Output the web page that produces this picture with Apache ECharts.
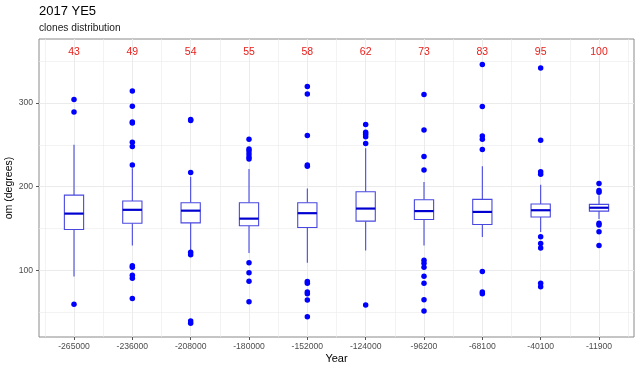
<!DOCTYPE html>
<html>
<head>
<meta charset="utf-8">
<script src="https://cdn.jsdelivr.net/npm/echarts@6/dist/echarts.min.js"></script>
<style>
  html, body { margin: 0; padding: 0; background: #fff; }
  #chart { width: 640px; height: 370px; }
</style>
</head>
<body>
<div id="chart"></div>
<script>
const categories = ['-265000','-236000','-208000','-180000','-152000','-124000','-96200','-68100','-40100','-11900'];
const counts = [43, 49, 54, 55, 58, 62, 73, 83, 95, 100];
const whiskerLow  = [93,    130,   124.5, 121,   109.5, 124,   130,   140,   146,   161.5];
const q1          = [149,   156.5, 157,   153.5, 151.5, 159,   161,   155,   164,   171];
const median      = [168,   172.5, 171.5, 162,   168.5, 174,   171,   170,   172,   175];
const q3          = [190,   183,   181,   181,   181,   194,   184.5, 185,   179.5, 179];
const whiskerHigh = [250,   222,   212,   221,   198,   246,   205.5, 224.5, 202.5, 190];
const outliers = [
  [304, 289, 60],
  [314, 296, 277, 276, 253, 248, 226, 106, 104, 94.5, 91, 67],
  [280, 279, 217, 122, 119, 40, 37.5],
  [256.5, 245, 242.5, 239, 235.5, 233, 109.5, 97.5, 87.5, 63],
  [319.5, 310.5, 261, 226, 224.5, 87, 85, 74.5, 72.5, 65, 45],
  [274, 265, 262.5, 259.5, 251.5, 59],
  [310, 267.5, 236, 220, 112.5, 109, 104, 93.5, 85, 65.5, 52],
  [345.5, 295.5, 260.5, 256.5, 244.5, 99, 74.5, 72.5],
  [341.5, 255.5, 218, 215, 140.5, 132.5, 127, 85, 81],
  [204, 195.5, 193.5, 156.5, 154.5, 146.5, 130]
];
const yTicks = [100, 200, 300];
const yMinor = [50, 150, 250, 350];
const countLabelY = 360;

const idx = categories.map((c, i) => i);
const boxData = idx.map(i => [i, whiskerLow[i], q1[i], median[i], q3[i], whiskerHigh[i]]);
const outlierData = [];
outliers.forEach((arr, i) => arr.forEach(v => outlierData.push([i, v])));
const countData = idx.map(i => [i, countLabelY, counts[i]]);
const xMinor = idx.map(i => i - 0.5).concat([categories.length - 0.5]);

const gridColor = '#ebebeb';
const markLines = []
  .concat(yTicks.map(v => ({ yAxis: v, lineStyle: { type: 'solid', width: 1, color: gridColor } })))
  .concat(yMinor.map(v => ({ yAxis: v, lineStyle: { type: 'solid', width: 0.6, color: gridColor } })))
  .concat(idx.map(v => ({ xAxis: v, lineStyle: { type: 'solid', width: 1, color: gridColor } })))
  .concat(xMinor.map(v => ({ xAxis: v, lineStyle: { type: 'solid', width: 0.6, color: gridColor } })));

const halfW = 0.165;
const chart = echarts.init(document.getElementById('chart'), null, { renderer: 'canvas' });
chart.setOption({
  animation: false,
  backgroundColor: '#fff',
  title: {
    text: '2017 YE5',
    subtext: 'clones distribution',
    left: 34, top: 0,
    itemGap: 5,
    textStyle: { fontFamily: 'Liberation Sans', fontSize: 13, fontWeight: 'normal', color: '#000' },
    subtextStyle: { fontFamily: 'Liberation Sans', fontSize: 10.2, color: '#1a1a1a' }
  },
  grid: { left: 39, right: 6, top: 39, bottom: 33, show: true, outerBoundsMode: 'none', containLabel: false,
    borderColor: '#8a8a8a', borderWidth: 1, backgroundColor: 'transparent' },
  xAxis: {
    type: 'value', min: -0.6, max: 9.6,
    name: 'Year', nameLocation: 'middle', nameGap: 16, nameMoveOverlap: false,
    nameTextStyle: { fontFamily: 'Liberation Sans', fontSize: 11, color: '#000' },
    axisLine: { show: false, onZero: false },
    splitLine: { show: false },
    axisTick: { show: true, length: 3, lineStyle: { color: '#555' }, customValues: idx },
    axisLabel: { customValues: idx, margin: 5, fontFamily: 'Liberation Sans', fontSize: 8.6, color: '#4d4d4d',
      formatter: v => categories[Math.round(v)] }
  },
  yAxis: {
    type: 'value', min: 21, max: 376,
    name: 'om (degrees)', nameLocation: 'middle', nameGap: 24, nameRotate: 90, nameMoveOverlap: false,
    nameTextStyle: { fontFamily: 'Liberation Sans', fontSize: 10.5, color: '#000' },
    axisLine: { show: false, onZero: false },
    splitLine: { show: false },
    axisTick: { show: true, length: 3, lineStyle: { color: '#555' }, customValues: yTicks },
    axisLabel: { customValues: yTicks, margin: 6, fontFamily: 'Liberation Sans', fontSize: 8.6, color: '#4d4d4d' }
  },
  series: [
    {
      type: 'line', data: [], silent: true, z: 0,
      markLine: { silent: true, z: 0, symbol: ['none', 'none'], label: { show: false }, data: markLines, animation: false }
    },
    {
      type: 'custom', z: 3, silent: true,
      data: boxData,
      renderItem: function (params, api) {
        const x = api.value(0);
        const lo = api.coord([x, api.value(1)]);
        const b1 = api.coord([x - halfW, api.value(2)]);
        const m1 = api.coord([x - halfW, api.value(3)]);
        const m2 = api.coord([x + halfW, api.value(3)]);
        const b3 = api.coord([x + halfW, api.value(4)]);
        const hi = api.coord([x, api.value(5)]);
        const c = api.coord([x, api.value(3)]);
        const lineStyle = { stroke: '#4848e0', lineWidth: 1.1 };
        return {
          type: 'group',
          children: [
            { type: 'line', shape: { x1: c[0], y1: lo[1], x2: c[0], y2: b1[1] }, style: lineStyle },
            { type: 'line', shape: { x1: c[0], y1: b3[1], x2: c[0], y2: hi[1] }, style: lineStyle },
            { type: 'rect', shape: { x: b1[0], y: b3[1], width: b3[0] - b1[0], height: b1[1] - b3[1] },
              style: { fill: '#fff', stroke: '#4848e0', lineWidth: 1.1 } },
            { type: 'line', shape: { x1: m1[0], y1: m1[1], x2: m2[0], y2: m2[1] },
              style: { stroke: '#0000d0', lineWidth: 2.2 } }
          ]
        };
      }
    },
    {
      type: 'scatter', z: 4, silent: true,
      data: outlierData, symbol: 'circle', symbolSize: 5.5,
      itemStyle: { color: '#0000ff', opacity: 1, borderWidth: 0 }
    },
    {
      type: 'custom', z: 5, silent: true,
      data: countData,
      renderItem: function (params, api) {
        const p = api.coord([api.value(0), api.value(1)]);
        return {
          type: 'text',
          style: { x: p[0], y: p[1], text: String(api.value(2)), align: 'center', verticalAlign: 'middle',
            fill: '#e8201c', font: '10.5px "Liberation Sans"' }
        };
      }
    }
  ]
});
</script>
</body>
</html>
